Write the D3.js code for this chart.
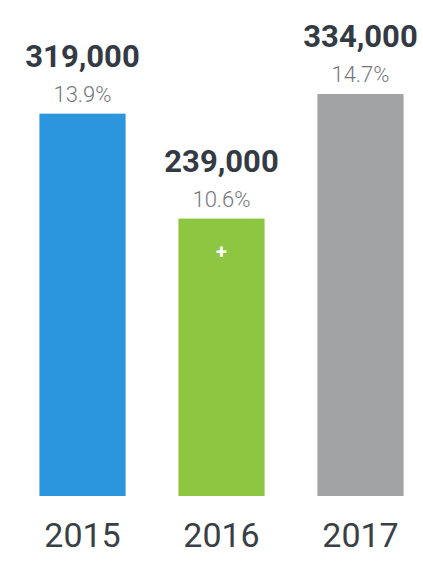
<!DOCTYPE html>
<html><head><meta charset="utf-8">
<script src="https://cdn.jsdelivr.net/npm/d3@7"></script>
<style>html,body{margin:0;padding:0;background:#fff;}svg{display:block;}</style>
</head><body>
<script>
const years = ["2015", "2016", "2017"];
const values = [319000, 239000, 334000];
const shares = ["13.9%", "10.6%", "14.7%"];
const colors = ["#2b95de", "#8dc640", "#a1a3a5"];

const W = 423, H = 562;
const svg = d3.select("body").append("svg").attr("width", W).attr("height", H);

const x = d3.scaleBand().domain(years).range([13, 430]).paddingInner(0.38).paddingOuter(0.19);
const y = d3.scaleLinear().domain([27500, 334000]).range([496, 94]);

const g = svg.selectAll("g.bar").data(years).enter().append("g").attr("class", "bar");

g.append("rect")
  .attr("x", d => x(d))
  .attr("y", (d, i) => y(values[i]))
  .attr("width", x.bandwidth())
  .attr("height", (d, i) => y.range()[0] - y(values[i]))
  .attr("fill", (d, i) => colors[i]);

g.append("text")
  .attr("x", d => x(d) + x.bandwidth() / 2)
  .attr("y", (d, i) => y(values[i]) - 47)
  .attr("text-anchor", "middle")
  .attr("font-family", "Roboto")
  .attr("font-weight", 700)
  .attr("font-size", 31)
  .attr("fill", "#333a43")
  .text((d, i) => d3.format(",")(values[i]));

g.append("text")
  .attr("x", d => x(d) + x.bandwidth() / 2)
  .attr("y", (d, i) => y(values[i]) - 12)
  .attr("text-anchor", "middle")
  .attr("font-family", "Roboto")
  .attr("font-weight", 300)
  .attr("font-size", 22)
  .attr("fill", "#74777b")
  .text((d, i) => shares[i]);

g.append("text")
  .attr("x", d => x(d) + x.bandwidth() / 2)
  .attr("y", 547)
  .attr("text-anchor", "middle")
  .attr("font-family", "Roboto")
  .attr("font-weight", 400)
  .attr("font-size", 34)
  .attr("fill", "#3a3f46")
  .text(d => d);

// small white plus mark on the 2016 bar
svg.append("text")
  .attr("x", x("2016") + x.bandwidth() / 2)
  .attr("y", y(values[1]) + 40)
  .attr("text-anchor", "middle")
  .attr("font-family", "Roboto")
  .attr("font-weight", 700)
  .attr("font-size", 20)
  .attr("fill", "#ffffff")
  .text("+");
</script>
</body></html>
